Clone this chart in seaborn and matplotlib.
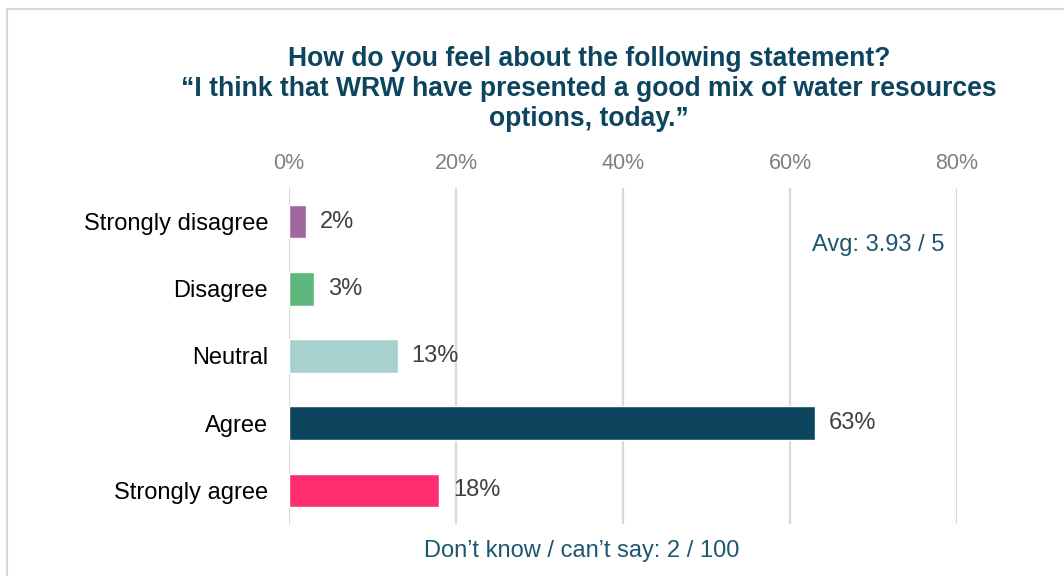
import matplotlib
matplotlib.use("Agg")
import matplotlib.pyplot as plt
import seaborn as sns
import pandas as pd
from matplotlib.patches import Rectangle

# Survey responses
categories = ["Strongly disagree", "Disagree", "Neutral", "Agree", "Strongly agree"]
percentages = [2, 3, 13, 63, 18]
bar_colors = ["#9E679E", "#5DB77D", "#A7D1CE", "#0D455E", "#FF2E6F"]
x_ticks = [0, 20, 40, 60, 80]
x_tick_labels = ["0%", "20%", "40%", "60%", "80%"]
title_text = ("How do you feel about the following statement?\n"
              "\u201cI think that WRW have presented a good mix of water resources\n"
              "options, today.\u201d")
avg_text = "Avg: 3.93 / 5"
dont_know_text = "Don\u2019t know / can\u2019t say: 2 / 100"

sns.set_theme(style="white")
plt.rcParams["font.family"] = ["Liberation Sans", "DejaVu Sans"]

df = pd.DataFrame({"category": categories, "pct": percentages})

fig = plt.figure(figsize=(10.64, 5.76), dpi=100)
ax = fig.add_axes([0.2716, 0.0903, 0.6278, 0.5833])

sns.barplot(data=df, x="pct", y="category", hue="category",
            palette=bar_colors, orient="h", width=0.5, legend=False,
            saturation=1, ax=ax)

ax.set_xlim(0, 80)
ax.set_ylim(len(categories) - 0.5, -0.5)
ax.set_xticks(x_ticks)
ax.set_xticklabels(x_tick_labels)
ax.xaxis.tick_top()
ax.tick_params(axis="x", length=0, pad=10, labelsize=15.5, labelcolor="#808080")
ax.tick_params(axis="y", length=0, pad=15, labelsize=17, labelcolor="#000000")
ax.set_xlabel("")
ax.set_ylabel("")
for s in ax.spines.values():
    s.set_visible(False)
for xv in x_ticks:
    ax.axvline(xv, color="#D9D9D9", lw=1.6, zorder=0)

for container in ax.containers:
    ax.bar_label(container, labels=[f"{v:g}%" for v in container.datavalues],
                 padding=10, fontsize=17, color="#404040")

ax.text(0.982, 0.83, avg_text, transform=ax.transAxes, ha="right", va="center",
        fontsize=17, color="#1E5670")

fig.text(0.547, 0.0434, dont_know_text, ha="center", va="center",
         fontsize=17, color="#1E5670")

fig.text(0.5536, 0.846, title_text, ha="center", va="center", multialignment="center",
         fontsize=19.1, fontweight="bold", color="#0D455E", linespacing=1.21)

# Light frame around the chart
fig.patches.append(Rectangle((7 / 1064, -0.1), 1.2, 1 - 9 / 576 + 0.1,
                             transform=fig.transFigure, fill=False,
                             edgecolor="#D9D9D9", lw=1.5))

fig.savefig("out.png", dpi=100, facecolor="white")
